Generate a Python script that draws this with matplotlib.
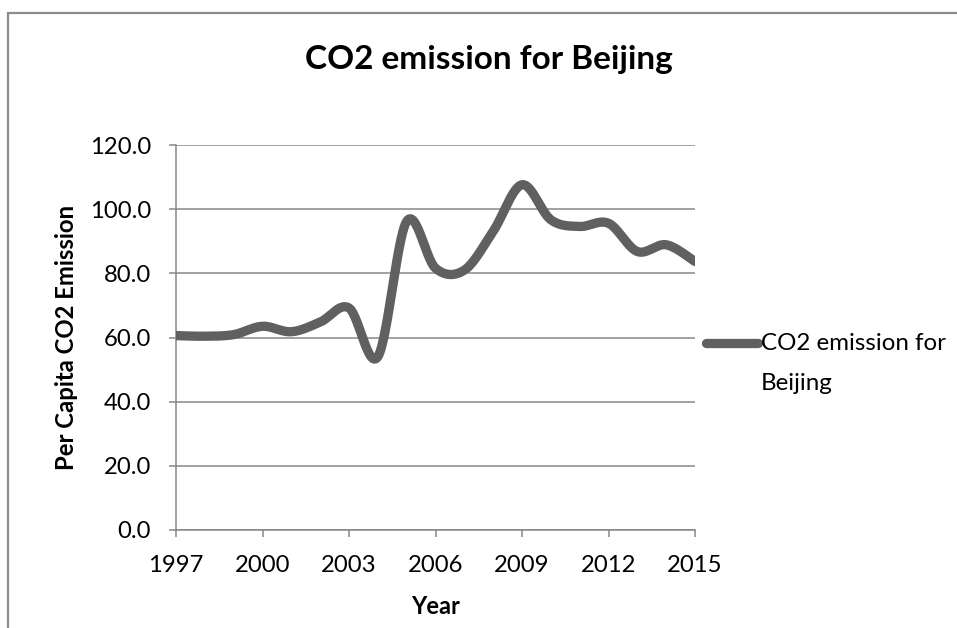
import numpy as np
import matplotlib
matplotlib.use("Agg")
import matplotlib.pyplot as plt
from matplotlib.patches import Rectangle
from matplotlib.lines import Line2D

years = [1997, 1998, 1999, 2000, 2001, 2002, 2003, 2004, 2005, 2006,
         2007, 2008, 2009, 2010, 2011, 2012, 2013, 2014, 2015]
emission = [60.6, 60.4, 60.9, 63.5, 61.8, 64.8, 69.2, 54.0, 96.2, 81.6,
            81.0, 93.1, 107.6, 96.7, 94.6, 95.6, 86.8, 88.9, 83.7]
series_name = "CO2 emission for Beijing"
legend_lines = ["CO2 emission for", "Beijing"]
x_ticks = [1997, 2000, 2003, 2006, 2009, 2012, 2015]
y_ticks = [0, 20, 40, 60, 80, 100, 120]

FONT = "Lato"
LINE_COLOR = "#606060"
GRID_COLOR = "#878787"


def smooth_curve(x, y, steps=30):
    """Bezier smoothing through every point (Catmull-Rom style)."""
    x = np.asarray(x, float)
    y = np.asarray(y, float)
    n = len(x)
    xs, ys = [], []
    t = np.linspace(0, 1, steps)
    for i in range(n - 1):
        p0 = np.array([x[i], y[i]])
        p3 = np.array([x[i + 1], y[i + 1]])
        pm = np.array([x[max(i - 1, 0)], y[max(i - 1, 0)]])
        pp = np.array([x[min(i + 2, n - 1)], y[min(i + 2, n - 1)]])
        c1 = p0 + (p3 - pm) / 6.0
        c2 = p3 - (pp - p0) / 6.0
        b = ((1 - t) ** 3)[:, None] * p0 + (3 * (1 - t) ** 2 * t)[:, None] * c1 \
            + (3 * (1 - t) * t ** 2)[:, None] * c2 + (t ** 3)[:, None] * p3
        if i > 0:
            b = b[1:]
        xs.append(b[:, 0])
        ys.append(b[:, 1])
    return np.concatenate(xs), np.concatenate(ys)


fig = plt.figure(figsize=(9.57, 6.28), dpi=100)
W, H = 957, 628

# chart area frame
fig.patches.append(Rectangle((8 / W, -0.05), 1.1, (H - 13.5) / H + 0.05,
                             transform=fig.transFigure, fill=False,
                             edgecolor="#8c8c8c", linewidth=1.6))

ax = fig.add_axes([176 / W, 1 - 530 / H, (695 - 176) / W, (530 - 145) / H])
sx, sy = smooth_curve(years, emission)
ax.plot(sx, sy, color=LINE_COLOR, linewidth=6.7, solid_capstyle="round",
        solid_joinstyle="round", clip_on=True, zorder=3)

ax.set_xlim(1997, 2015)
ax.set_ylim(0, 120)
ax.set_xticks(x_ticks)
ax.set_yticks(y_ticks)
ax.set_yticklabels([f"{v:.1f}" for v in y_ticks])
ax.grid(axis="y", color=GRID_COLOR, linewidth=1.1)
ax.set_axisbelow(True)
for s in ["top", "right"]:
    ax.spines[s].set_visible(False)
for s in ["left", "bottom"]:
    ax.spines[s].set_color(GRID_COLOR)
    ax.spines[s].set_linewidth(1.1)
ax.tick_params(axis="both", direction="out", length=5, width=1.1,
               color=GRID_COLOR, labelsize=17.2)
ax.tick_params(axis="y", pad=13)
ax.tick_params(axis="x", pad=13)
for lbl in ax.get_xticklabels() + ax.get_yticklabels():
    lbl.set_fontfamily(FONT)

ax.set_xlabel("Year", fontfamily=FONT, fontweight="bold", fontsize=17,
              labelpad=14)
ax.yaxis.set_label_coords(-(176 - 67) / (695 - 176), 0.5)
ax.set_ylabel("Per Capita CO2 Emission", fontfamily=FONT, fontweight="bold",
              fontsize=17.2, va="center")

fig.text(489 / W, 1 - 59 / H, series_name, ha="center", va="center",
         fontfamily=FONT, fontweight="bold", fontsize=24)

# legend entry
fig.add_artist(Line2D([706 / W, 758 / W], [1 - 343 / H, 1 - 343 / H],
                      transform=fig.transFigure, color=LINE_COLOR,
                      linewidth=6.7, solid_capstyle="round"))
fig.text(761 / W, 1 - 343 / H, legend_lines[0], ha="left",
         va="center", fontfamily=FONT, fontsize=17.4)
fig.text(761 / W, 1 - 383 / H, legend_lines[1], ha="left",
         va="center", fontfamily=FONT, fontsize=17.4)

fig.savefig("out.png", dpi=100)
